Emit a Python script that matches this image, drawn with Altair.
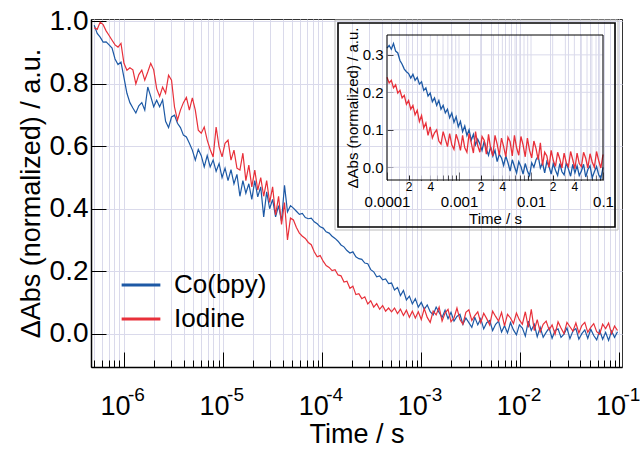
import altair as alt
import pandas as pd

# ---------------- data ----------------
series_names = ["Co(bpy)", "Iodine"]
series_colors = ["#1d59a5", "#e8303a"]

# main panel: log10(time / s) and normalized dAbs
main_log_t = [
    -6.30, -6.27, -6.24, -6.21, -6.18, -6.15, -6.12, -6.09, -6.06, -6.03,
    -6.00, -5.97, -5.94, -5.91, -5.88, -5.85, -5.82, -5.79, -5.76, -5.73,
    -5.70, -5.67, -5.64, -5.61, -5.58, -5.55, -5.52, -5.49, -5.46, -5.43,
    -5.40, -5.37, -5.34, -5.31, -5.28, -5.25, -5.22, -5.19, -5.16, -5.13,
    -5.10, -5.07, -5.04, -5.01, -4.98, -4.95, -4.92, -4.89, -4.86, -4.83,
    -4.80, -4.77, -4.74, -4.71, -4.68, -4.65, -4.62, -4.59, -4.56, -4.53,
    -4.50, -4.47, -4.44, -4.41, -4.38, -4.35, -4.32, -4.29, -4.26, -4.23,
    -4.20, -4.17, -4.14, -4.11, -4.08, -4.05, -4.02, -3.99, -3.96, -3.93,
    -3.90, -3.87, -3.84, -3.81, -3.78, -3.75, -3.72, -3.69, -3.66, -3.63,
    -3.60, -3.57, -3.54, -3.51, -3.48, -3.45, -3.42, -3.39, -3.36, -3.33,
    -3.30, -3.27, -3.24, -3.21, -3.18, -3.15, -3.12, -3.09, -3.06, -3.03,
    -3.00, -2.97, -2.94, -2.91, -2.88, -2.85, -2.82, -2.79, -2.76, -2.73,
    -2.70, -2.67, -2.64, -2.61, -2.58, -2.55, -2.52, -2.49, -2.46, -2.43,
    -2.40, -2.37, -2.34, -2.31, -2.28, -2.25, -2.22, -2.19, -2.16, -2.13,
    -2.10, -2.07, -2.04, -2.01, -1.98, -1.95, -1.92, -1.89, -1.86, -1.83,
    -1.80, -1.77, -1.74, -1.71, -1.68, -1.65, -1.62, -1.59, -1.56, -1.53,
    -1.50, -1.47, -1.44, -1.41, -1.38, -1.35, -1.32, -1.29, -1.26, -1.23,
    -1.20, -1.17, -1.14, -1.11, -1.08, -1.05, -1.02,
]

main_co = [
    0.988, 0.962, 0.950, 0.934, 0.935, 0.925, 0.915, 0.880, 0.862, 0.870,
    0.820, 0.770, 0.740, 0.723, 0.707, 0.730, 0.740, 0.716, 0.790, 0.760,
    0.727, 0.748, 0.727, 0.749, 0.680, 0.660, 0.694, 0.700, 0.674, 0.660,
    0.636, 0.630, 0.610, 0.588, 0.556, 0.590, 0.570, 0.534, 0.570, 0.534,
    0.556, 0.520, 0.545, 0.500, 0.530, 0.490, 0.525, 0.480, 0.510, 0.440,
    0.490, 0.450, 0.480, 0.430, 0.490, 0.438, 0.470, 0.374, 0.454, 0.400,
    0.430, 0.374, 0.410, 0.360, 0.475, 0.390, 0.410, 0.402, 0.392, 0.382,
    0.385, 0.372, 0.368, 0.370, 0.358, 0.352, 0.342, 0.338, 0.326, 0.322,
    0.312, 0.305, 0.296, 0.284, 0.278, 0.266, 0.258, 0.262, 0.246, 0.240,
    0.238, 0.226, 0.224, 0.205, 0.198, 0.182, 0.185, 0.172, 0.175, 0.160,
    0.162, 0.140, 0.148, 0.122, 0.138, 0.108, 0.120, 0.095, 0.112, 0.085,
    0.100, 0.078, 0.092, 0.070, 0.060, 0.085, 0.068, 0.052, 0.075, 0.048,
    0.068, 0.040, 0.055, 0.062, 0.030, 0.050, 0.035, 0.020, 0.052, 0.028,
    0.048, 0.015, 0.035, 0.042, 0.010, 0.030, 0.040, 0.005, 0.025, 0.002,
    0.035, 0.012, -0.004, 0.028, 0.018, -0.008, 0.040, 0.010, 0.030, -0.010,
    0.020, -0.012, 0.004, 0.018, -0.015, 0.010, 0.015, -0.012, -0.002, 0.018,
    -0.016, 0.008, 0.016, -0.018, 0.000, 0.012, -0.015, 0.014, -0.006, -0.020,
    0.010, -0.018, 0.004, -0.022, 0.008, -0.012, 0.006,
]

main_iodine = [
    0.980, 0.975, 0.998, 0.990, 0.970, 0.955, 0.940, 0.925, 0.918, 0.930,
    0.866, 0.844, 0.852, 0.845, 0.800, 0.830, 0.844, 0.812, 0.838, 0.866,
    0.845, 0.785, 0.760, 0.790, 0.770, 0.828, 0.812, 0.726, 0.684, 0.716,
    0.740, 0.757, 0.716, 0.755, 0.716, 0.652, 0.642, 0.662, 0.620, 0.590,
    0.566, 0.662, 0.598, 0.566, 0.610, 0.620, 0.556, 0.588, 0.530, 0.524,
    0.578, 0.490, 0.540, 0.470, 0.524, 0.460, 0.500, 0.440, 0.490, 0.420,
    0.470, 0.380, 0.440, 0.350, 0.420, 0.300, 0.370, 0.364, 0.340, 0.322,
    0.312, 0.305, 0.292, 0.285, 0.262, 0.246, 0.250, 0.232, 0.218, 0.212,
    0.202, 0.205, 0.188, 0.185, 0.165, 0.168, 0.145, 0.152, 0.125, 0.128,
    0.112, 0.118, 0.095, 0.105, 0.085, 0.096, 0.078, 0.090, 0.072, 0.082,
    0.070, 0.082, 0.064, 0.078, 0.058, 0.075, 0.052, 0.072, 0.050, 0.070,
    0.045, 0.080, 0.052, 0.036, 0.072, 0.060, 0.085, 0.040, 0.066, 0.078,
    0.038, 0.050, 0.082, 0.045, 0.030, 0.068, 0.076, 0.042, 0.058, 0.070,
    0.035, 0.065, 0.048, 0.028, 0.072, 0.055, 0.040, 0.068, 0.025, 0.062,
    0.050, 0.032, 0.066, 0.044, 0.030, 0.070, 0.020, 0.078, 0.010, 0.045,
    0.005, 0.030, 0.040, 0.012, 0.028, -0.002, 0.038, 0.018, 0.000, 0.036,
    0.022, 0.008, 0.034, 0.002, 0.026, 0.036, 0.004, 0.020, 0.032, 0.006,
    -0.002, 0.030, 0.016, 0.034, 0.000, 0.024, 0.010,
]

# inset panel
inset_log_t = [
    -4.00, -3.97, -3.94, -3.91, -3.88, -3.85, -3.82, -3.79, -3.76, -3.73,
    -3.70, -3.67, -3.64, -3.61, -3.58, -3.55, -3.52, -3.49, -3.46, -3.43,
    -3.40, -3.37, -3.34, -3.31, -3.28, -3.25, -3.22, -3.19, -3.16, -3.13,
    -3.10, -3.07, -3.04, -3.01, -2.98, -2.95, -2.92, -2.89, -2.86, -2.83,
    -2.80, -2.77, -2.74, -2.71, -2.68, -2.65, -2.62, -2.59, -2.56, -2.53,
    -2.50, -2.47, -2.44, -2.41, -2.38, -2.35, -2.32, -2.29, -2.26, -2.23,
    -2.20, -2.17, -2.14, -2.11, -2.08, -2.05, -2.02, -1.99, -1.96, -1.93,
    -1.90, -1.87, -1.84, -1.81, -1.78, -1.75, -1.72, -1.69, -1.66, -1.63,
    -1.60, -1.57, -1.54, -1.51, -1.48, -1.45, -1.42, -1.39, -1.36, -1.33,
    -1.30, -1.27, -1.24, -1.21, -1.18, -1.15, -1.12, -1.09, -1.06, -1.03,
    -1.00,
]

inset_co = [
    0.318, 0.325, 0.315, 0.330, 0.310, 0.305, 0.285, 0.275, 0.262, 0.255,
    0.250, 0.238, 0.248, 0.232, 0.240, 0.222, 0.228, 0.205, 0.212, 0.190,
    0.198, 0.175, 0.185, 0.165, 0.178, 0.155, 0.165, 0.145, 0.155, 0.132,
    0.145, 0.120, 0.135, 0.108, 0.122, 0.095, 0.110, 0.085, 0.100, 0.072,
    0.088, 0.060, 0.075, 0.062, 0.045, 0.070, 0.048, 0.032, 0.055, 0.030,
    0.045, 0.015, 0.035, 0.025, 0.005, 0.030, 0.012, -0.010, 0.020, 0.002,
    -0.015, 0.015, 0.002, -0.018, 0.010, -0.010, -0.022, 0.012, 0.000, 0.020,
    0.030, -0.002, 0.012, -0.015, 0.015, 0.002, -0.018, 0.010, -0.008, -0.022,
    0.010, -0.012, -0.020, 0.012, -0.005, -0.024, 0.008, -0.015, 0.004, -0.022,
    -0.010, 0.008, -0.026, -0.006, 0.004, -0.028, -0.012, 0.002, -0.020, -0.030,
    0.000,
]

inset_iodine = [
    0.240, 0.225, 0.232, 0.212, 0.220, 0.198, 0.205, 0.185, 0.192, 0.168,
    0.178, 0.155, 0.165, 0.140, 0.152, 0.122, 0.138, 0.105, 0.118, 0.085,
    0.108, 0.078, 0.092, 0.100, 0.070, 0.062, 0.095, 0.075, 0.055, 0.090,
    0.060, 0.048, 0.088, 0.070, 0.045, 0.085, 0.052, 0.040, 0.090, 0.065,
    0.038, 0.095, 0.058, 0.040, 0.082, 0.072, 0.035, 0.088, 0.050, 0.030,
    0.085, 0.062, 0.032, 0.078, 0.055, 0.028, 0.080, 0.068, 0.030, 0.085,
    0.052, 0.032, 0.082, 0.060, 0.028, 0.078, 0.045, 0.025, 0.070, 0.050,
    0.020, 0.065, 0.005, 0.040, 0.030, 0.000, 0.045, 0.018, 0.002, 0.040,
    0.022, -0.002, 0.038, 0.012, 0.002, 0.042, 0.020, -0.004, 0.038, 0.010,
    0.002, 0.040, 0.024, -0.002, 0.036, 0.014, 0.000, 0.042, 0.018, -0.002,
    0.034,
]

main_y_ticks = [0.0, 0.2, 0.4, 0.6, 0.8, 1.0]
inset_y_ticks = [0.0, 0.1, 0.2, 0.3]

# ---------------- layout / style ----------------
FONT = "Liberation Sans"
GRID = "#dadaeb"
W, H = 531, 348
MAIN_X_DOMAIN = [4.65e-7, 0.106]
MAIN_Y_DOMAIN = [-0.107, 1.008]
INSET_X_DOMAIN = [1e-4, 0.1]
INSET_Y_DOMAIN = [-0.034, 0.353]
INSET_X_RANGE = [296, 512]
INSET_Y_RANGE = [161, 16]


def decade_ticks(lo, hi):
    out = []
    for e in range(-8, 1):
        for m in range(1, 10):
            v = float(f"{m}e{e}")
            if lo * 0.999 <= v <= hi * 1.001:
                out.append(v)
    return out


main_x_ticks = decade_ticks(*MAIN_X_DOMAIN)
inset_x_ticks = decade_ticks(*INSET_X_DOMAIN)
main_decades = [float(f"1e{e}") for e in range(-6, 0)]

IS_MAJOR = "(abs(log(datum.value)/LN10 - round(log(datum.value)/LN10)) < 0.001)"
MANT = "round(datum.value / pow(10, floor(log(datum.value)/LN10 + 0.001)))"


def table(log_t, vals, name):
    return pd.DataFrame({"t": [10.0 ** e for e in log_t], "v": vals, "series": name})


color = alt.Color(
    "series:N",
    scale=alt.Scale(domain=series_names, range=series_colors),
    legend=alt.Legend(
        title=None, orient="none", legendX=29, legendY=245,
        symbolType="stroke", symbolSize=1500, symbolStrokeWidth=3,
        labelFontSize=26, labelFont=FONT, labelColor="black",
        labelOffset=12, rowPadding=0, padding=0,
    ),
)

# ---------------- main panel ----------------
mx = alt.X(
    "t:Q",
    scale=alt.Scale(type="log", domain=MAIN_X_DOMAIN, nice=False),
    axis=alt.Axis(
        orient="bottom", values=main_x_ticks,
        labelExpr=f"{IS_MAJOR} ? '10' : ''",
        labelFontSize=27, labelOffset=-9, labelPadding=41,
        labelFlush=False, labelOverlap=False,
        tickSize={"expr": f"{IS_MAJOR} ? -15 : -7"}, tickWidth=1,
        domainWidth=1.5,
        grid=True, gridColor=GRID, gridWidth=1,
        title="Time / s", titleFontSize=27,
        titleBaseline="alphabetic", titleY=75,
    ),
)
my = alt.Y(
    "v:Q",
    scale=alt.Scale(domain=MAIN_Y_DOMAIN, nice=False, zero=False),
    axis=alt.Axis(
        orient="left", values=main_y_ticks, format=".1f",
        labelFontSize=28, labelPadding=18,
        tickSize={"expr": "-15"}, tickWidth=1, domainWidth=1.5,
        grid=True, gridColor=GRID, gridWidth=1,
        title="\u0394Abs (normalized) / a.u.", titleFontSize=27, titlePadding=4,
    ),
)

main_co_line = alt.Chart(table(main_log_t, main_co, series_names[0])).mark_line(
    strokeWidth=1.2
).encode(x=mx, y=my, color=color)
main_io_line = alt.Chart(table(main_log_t, main_iodine, series_names[1])).mark_line(
    strokeWidth=1.2
).encode(x=mx, y=my, color=color)
main = alt.layer(main_co_line, main_io_line)

# exponents of the main x labels (second axis on the same log scale)
expo = alt.Chart(pd.DataFrame({"t": main_decades})).mark_point(opacity=0).encode(
    x=alt.X(
        "t:Q",
        scale=alt.Scale(type="log", domain=MAIN_X_DOMAIN, nice=False),
        axis=alt.Axis(
            orient="bottom", values=main_decades,
            labelExpr="'-' + abs(round(log(datum.value)/LN10))",
            labelFontSize=19, labelOffset=12, labelPadding=18,
            labelFlush=False, labelOverlap=False,
            ticks=False, domain=False, grid=False, title=None,
        ),
    ),
    y=alt.value(0),
)

# ---------------- inset ----------------
ix = alt.X(
    "t:Q",
    scale=alt.Scale(type="log", domain=INSET_X_DOMAIN, range=INSET_X_RANGE, nice=False),
    axis=alt.Axis(
        orient="bottom", offset=-(H - INSET_Y_RANGE[0]), values=inset_x_ticks,
        labelExpr=f"{IS_MAJOR} ? ('' + datum.value) : (({MANT} == 2 || {MANT} == 4) ? ('' + {MANT}) : '')",
        labelFontSize={"expr": f"{IS_MAJOR} ? 15 : 12"},
        labelPadding={"expr": f"{IS_MAJOR} ? 22 : 6"},
        labelFlush=False, labelOverlap=False,
        tickSize={"expr": f"{IS_MAJOR} ? -8 : -5"}, tickWidth=1,
        domain=False, grid=False,
        title="Time / s", titleFontSize=15, titlePadding=2,
    ),
)
iy = alt.Y(
    "v:Q",
    scale=alt.Scale(domain=INSET_Y_DOMAIN, range=INSET_Y_RANGE, nice=False, zero=False),
    axis=alt.Axis(
        orient="left", offset=-INSET_X_RANGE[0], values=inset_y_ticks, format=".1f",
        labelFontSize=15, labelPadding=10,
        tickSize={"expr": "-6"}, tickWidth=1, domain=False, grid=False,
        title="\u0394Abs (normalized) / a.u.", titleFontSize=15, titlePadding=2,
    ),
)

inset_vgrid = alt.Chart(pd.DataFrame({"t": inset_x_ticks})).mark_rule(
    color=GRID, strokeWidth=1
).encode(x=ix, y=alt.value(INSET_Y_RANGE[1]), y2=alt.value(INSET_Y_RANGE[0]))
inset_hgrid = alt.Chart(pd.DataFrame({"v": inset_y_ticks})).mark_rule(
    color=GRID, strokeWidth=1
).encode(y=iy, x=alt.value(INSET_X_RANGE[0]), x2=alt.value(INSET_X_RANGE[1]))

inset_co_line = alt.Chart(table(inset_log_t, inset_co, series_names[0])).mark_line(
    strokeWidth=1.3
).encode(x=ix, y=iy, color=color)
inset_io_line = alt.Chart(table(inset_log_t, inset_iodine, series_names[1])).mark_line(
    strokeWidth=1.3
).encode(x=ix, y=iy, color=color)

box = alt.Data(values=[{}])
inner_frame = alt.Chart(box).mark_rect(fillOpacity=0, stroke="black", strokeWidth=1).encode(
    x=alt.value(INSET_X_RANGE[0]), x2=alt.value(INSET_X_RANGE[1]),
    y=alt.value(INSET_Y_RANGE[1]), y2=alt.value(INSET_Y_RANGE[0]),
)
outer_frame = alt.Chart(box).mark_rect(fillOpacity=0, stroke="black", strokeWidth=1.6).encode(
    x=alt.value(247), x2=alt.value(524), y=alt.value(4), y2=alt.value(208),
)
outer_border = alt.Chart(box).mark_rect(fillOpacity=0, stroke="#bbbbbb", strokeWidth=1).encode(
    x=alt.value(244), x2=alt.value(527), y=alt.value(1), y2=alt.value(211),
)

inset = alt.layer(
    inset_vgrid, inset_hgrid, inset_co_line, inset_io_line,
    inner_frame, outer_frame, outer_border,
)

chart = (
    alt.layer(main, expo, inset)
    .resolve_scale(x="independent", y="independent")
    .properties(
        width=W, height=H,
        padding={"left": 91, "top": 19, "right": 18, "bottom": 82},
        autosize=alt.AutoSizeParams(type="none"),
        background="white",
    )
    .configure_axis(
        labelFont=FONT, titleFont=FONT, labelColor="black", titleColor="black",
        titleFontWeight="normal", domainColor="black", tickColor="black",
    )
    .configure_view(stroke="#333333", strokeWidth=1)
)

chart.save("out.html", embed_options={"renderer": "svg", "actions": False})
